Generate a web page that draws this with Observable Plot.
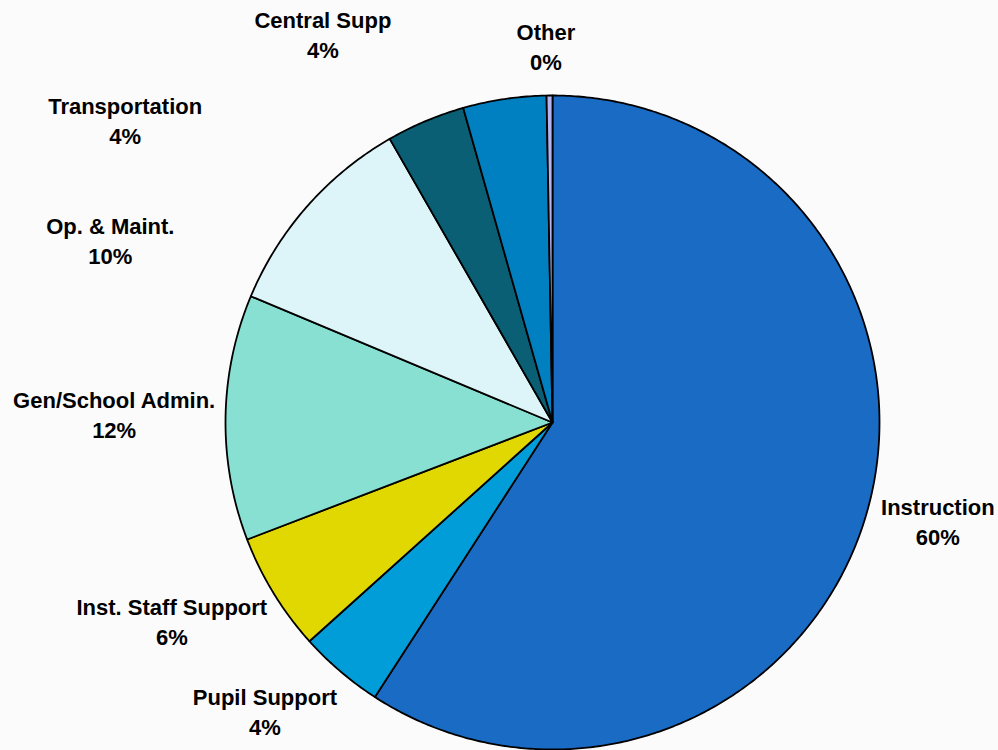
<!DOCTYPE html>
<html><head><meta charset="utf-8">
<script src="https://cdn.jsdelivr.net/npm/d3@7"></script>
<script src="https://cdn.jsdelivr.net/npm/@observablehq/plot@0.6"></script>
<style>html,body{margin:0;padding:0;background:#fbfbfb;}</style>
</head><body><div id="chart"></div>
<script>
// Data (percent of total), clockwise from 12 o'clock
const categories = ["Instruction", "Pupil Support", "Inst. Staff Support", "Gen/School Admin.", "Op. & Maint.", "Transportation", "Central Supp", "Other"];
const shares = [59.13, 4.20, 5.84, 12.13, 10.40, 3.89, 4.11, 0.29];
const percentLabels = ["60%", "4%", "6%", "12%", "10%", "4%", "4%", "0%"];

// Styles (kept apart from data)
const palette = ["#1A6BC4", "#009DD8", "#E0D800", "#88E0D2", "#DDF4F8", "#0A5F75", "#0080C0", "#B4B4F0"];
// label nudges in pixels relative to each slice's mid-angle anchor (layout, not data)
const labelNudge = [[9, -13], [-33, -11], [-46, -7], [-46, -3], [-148, 77], [-275, 59], [-172, -1], [-3, 15]];

const W = 998, H = 750, CX = 552, CY = 422, R = 327;
const data = categories.map((name, i) => ({name, value: shares[i]}));
const arcs = d3.pie().sort(null).value(d => d.value).startAngle(0).endAngle(2 * Math.PI)(data);

const pts = [];
arcs.forEach(a => {
  const name = a.data.name;
  pts.push({name, x: 0, y: 0});
  const n = Math.max(2, Math.ceil((a.endAngle - a.startAngle) / (Math.PI / 360)));
  for (let k = 0; k <= n; k++) {
    const t = a.startAngle + (a.endAngle - a.startAngle) * k / n;
    pts.push({name, x: Math.sin(t), y: Math.cos(t)});
  }
  pts.push({name, x: 0, y: 0});
});

const labels = arcs.map((a, i) => {
  const m = (a.startAngle + a.endAngle) / 2;
  return {
    x: 1.2 * Math.sin(m) + labelNudge[i][0] / R,
    y: 1.2 * Math.cos(m) - labelNudge[i][1] / R,
    text: a.data.name + "\n" + percentLabels[i]
  };
});

const chart = Plot.plot({
  width: W, height: H,
  margin: 0,
  style: {background: "#fbfbfb", fontFamily: "'Liberation Sans', Arial, sans-serif"},
  x: {domain: [-1, 1], range: [CX - R, CX + R], axis: null},
  y: {domain: [-1, 1], range: [CY + R, CY - R], axis: null},
  color: {domain: categories, range: palette},
  marks: [
    Plot.line(pts, {x: "x", y: "y", z: "name", fill: "name", stroke: "black", strokeWidth: 1.8, strokeLinejoin: "round", curve: "linear"}),
    Plot.text(labels, {x: "x", y: "y", text: "text", fontSize: 22, fontWeight: "bold", fill: "black", lineHeight: 1.364})
  ]
});
document.getElementById("chart").appendChild(chart);
</script>
</body></html>
